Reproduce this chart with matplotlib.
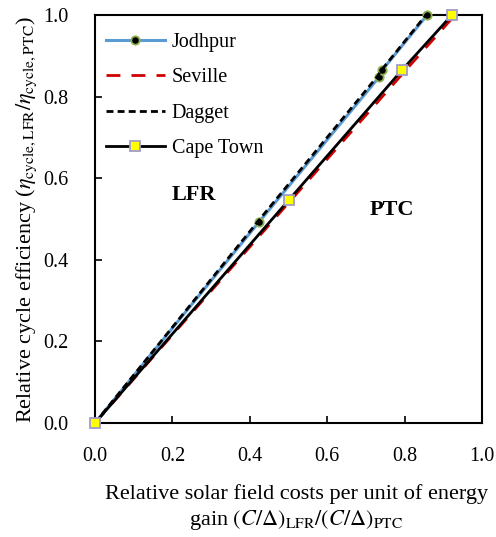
import numpy as np
import matplotlib
matplotlib.use('Agg')
import matplotlib.pyplot as plt

plt.rcParams['font.family'] = 'Liberation Serif'
plt.rcParams['mathtext.fontset'] = 'stix'

# data
jodhpur_x = [0.0, 0.424, 0.734, 0.742, 0.858]
jodhpur_y = [0.0, 0.493, 0.848, 0.865, 1.0]
seville_x = [0.0, 0.505, 0.80, 0.93]
seville_y = [0.0, 0.545, 0.862, 1.0]
dagget_x = [0.0, 0.42, 0.73, 0.74, 0.855]
dagget_y = [0.0, 0.493, 0.85, 0.865, 1.0]
cape_x = [0.0, 0.501, 0.793, 0.922]
cape_y = [0.0, 0.547, 0.865, 1.0]
ticks = [0.0, 0.2, 0.4, 0.6, 0.8, 1.0]

fig = plt.figure(figsize=(4.96, 5.37), dpi=100)
ax = fig.add_axes([0.1915, 0.2123, 0.7805, 0.7597])

ax.plot(jodhpur_x, jodhpur_y, '-', color='#5b9bd5', lw=2.2, marker='o', ms=6,
        mfc='black', mec='#8fb050', mew=1.3, label='Jodhpur', clip_on=False, zorder=3)
ax.plot(seville_x, seville_y, '--', color='#d00000', lw=2, dashes=(5, 4),
        label='Seville', clip_on=False, zorder=2)
ax.plot(dagget_x, dagget_y, '--', color='black', lw=2, dashes=(2.5, 1.5),
        label='Dagget', clip_on=False, zorder=4)
ax.plot(cape_x, cape_y, '-', color='black', lw=2, marker='s', ms=6.5,
        mfc='#ffff00', mec='#a09cc8', mew=1.3, label='Cape Town', clip_on=False, zorder=5)

ax.set_xlim(0, 1)
ax.set_ylim(0, 1)
ax.set_xticks(ticks)
ax.set_yticks(ticks)
ax.set_xticklabels(['%.1f' % t for t in ticks])
ax.set_yticklabels(['%.1f' % t for t in ticks])
ax.tick_params(direction='in', length=5, width=1.2, labelsize=14.5)
ax.tick_params(axis='x', pad=17)
ax.tick_params(axis='y', pad=19)
for s in ax.spines.values():
    s.set_linewidth(1.5)

ax.text(0.256, 0.559, 'LFR', fontsize=16, fontweight='bold', ha='center', va='center')
ax.text(0.767, 0.522, 'PTC', fontsize=16, fontweight='bold', ha='center', va='center')

ax.set_xlabel('Relative solar field costs per unit of energy\n'
              r'gain $(C/\Delta)_{\mathrm{LFR}}/(C/\Delta)_{\mathrm{PTC}}$',
              fontsize=16, labelpad=13, linespacing=1.25, x=0.52)
ax.set_ylabel(r'Relative cycle efficiency ($\eta_{\mathrm{cycle,LFR}}/\eta_{\mathrm{cycle,PTC}}$)',
              fontsize=16, labelpad=3)

ax.legend(loc='upper left', bbox_to_anchor=(-0.018, 1.0), frameon=False,
          handlelength=2.9, fontsize=14.5, labelspacing=0.8, borderaxespad=0.5,
          handletextpad=0.35)

fig.savefig('out.png', dpi=100)
